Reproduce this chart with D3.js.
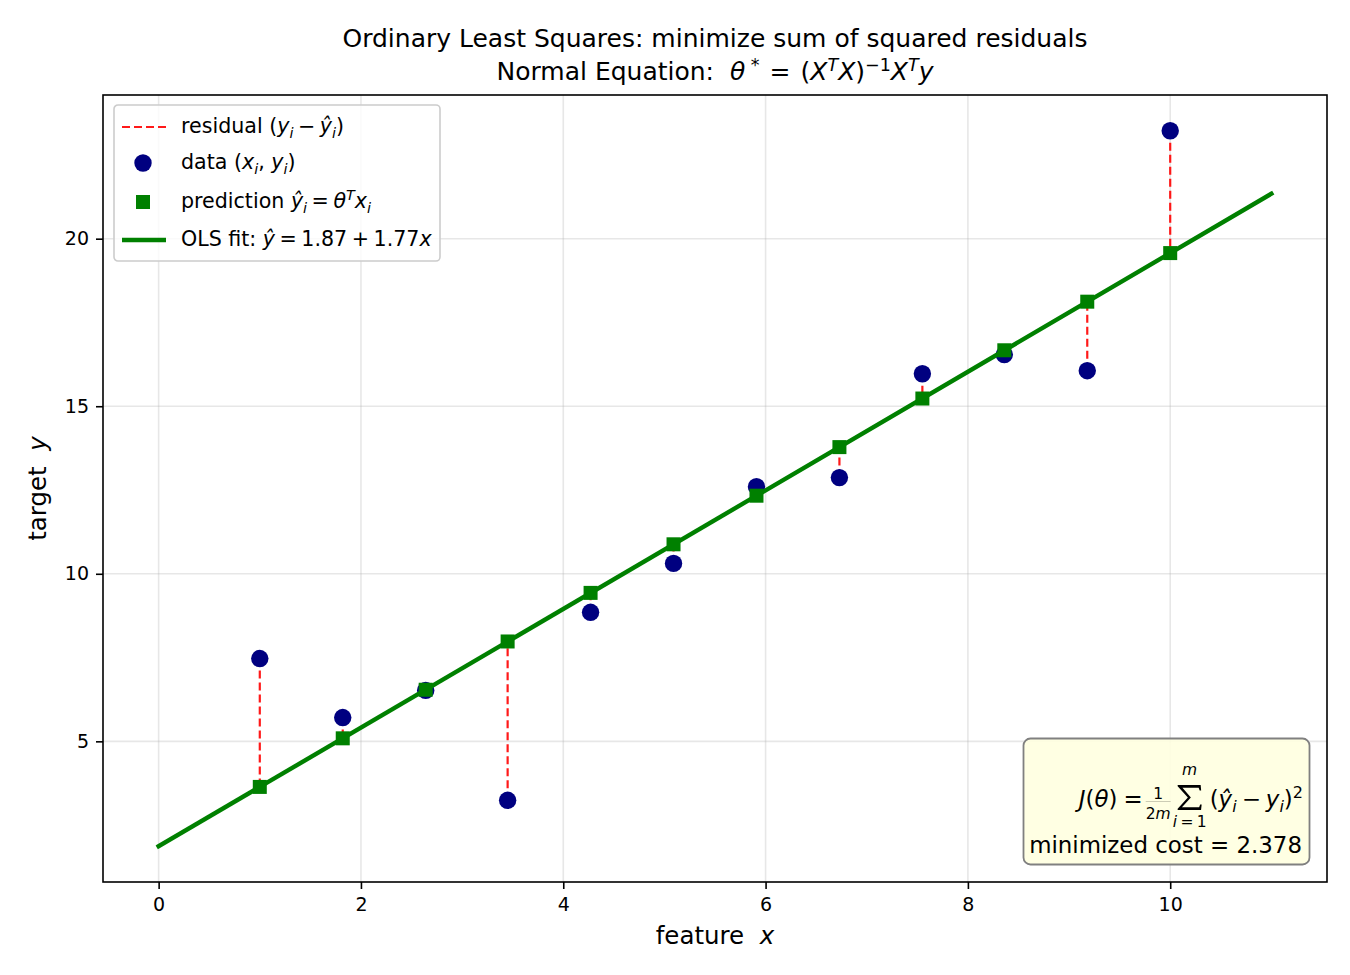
<!DOCTYPE html>
<html>
<head>
<meta charset="utf-8">
<script src="https://cdn.jsdelivr.net/npm/d3@7"></script>
<style>
  body { margin: 0; background: #fff; }
  svg { font-family: "DejaVu Sans", sans-serif; }
  text { white-space: pre; }
</style>
</head>
<body>
<svg id="chart" width="1350" height="975"></svg>
<script>
// data
const featureX = [1.00, 1.82, 2.64, 3.45, 4.27, 5.09, 5.91, 6.73, 7.55, 8.36, 9.18, 10.00];
const targetY = [7.47, 5.71, 6.52, 3.24, 8.85, 10.31, 12.60, 12.87, 15.97, 16.54, 16.06, 23.22];
const predictedY = [3.64, 5.09, 6.54, 7.98, 9.43, 10.88, 12.33, 13.78, 15.23, 16.67, 18.12, 19.57];
const fitX = [0, 11];
const fitY = [1.87, 21.34];
const xTicks = [0, 2, 4, 6, 8, 10];
const yTicks = [5, 10, 15, 20];
const fitLabel = { intercept: "1.87", slope: "1.77" };
const minimizedCost = "2.378";

const margin = { top: 95, right: 23, bottom: 93, left: 103 };
const width = 1350 - margin.left - margin.right;
const height = 975 - margin.top - margin.bottom;

const svg = d3.select("#chart");
const g = svg.append("g").attr("transform", `translate(${margin.left},${margin.top})`);

// matplotlib style 5% padding
function padded(ext) {
  const pad = (ext[1] - ext[0]) * 0.05;
  return [ext[0] - pad, ext[1] + pad];
}
const x = d3.scaleLinear()
  .domain(padded(d3.extent(fitX.concat(featureX))))
  .range([0, width]);
const y = d3.scaleLinear()
  .domain(padded(d3.extent(fitY.concat(targetY, predictedY))))
  .range([height, 0]);

const green = "#008000";
const navy = "#000080";

// rich text: parts like {t, i (italic), sub, sup, op (binary operator with math spacing)}
function rich(parent, px, py, parts, size, anchor, gapEm) {
  const t = parent.append("text")
    .attr("x", px)
    .attr("y", py)
    .attr("font-size", size)
    .attr("text-anchor", anchor || "start")
    .attr("fill", "#000");
  let shift = 0;
  let pending = 0;
  const gap = size * (gapEm || 0.22);
  parts.forEach((p) => {
    let target = 0;
    let fs = size;
    if (p.sub) { target = size * 0.22; fs = size * 0.7; }
    if (p.sup) { target = -size * 0.38; fs = size * 0.7; }
    const ts = t.append("tspan")
      .attr("dy", target - shift)
      .attr("font-size", fs)
      .attr("font-style", p.i ? "italic" : "normal")
      .text(p.t);
    if (p.op) {
      ts.attr("dx", gap);
      pending = gap;
    } else {
      if (pending) ts.attr("dx", pending);
      pending = 0;
    }
    shift = target;
  });
  return t;
}

// grid
g.append("g")
  .selectAll("line")
  .data(xTicks)
  .join("line")
  .attr("x1", (d) => x(d))
  .attr("x2", (d) => x(d))
  .attr("y1", 0)
  .attr("y2", height)
  .attr("stroke", "#b0b0b0")
  .attr("stroke-opacity", 0.3)
  .attr("stroke-width", 1.6);

g.append("g")
  .selectAll("line")
  .data(yTicks)
  .join("line")
  .attr("x1", 0)
  .attr("x2", width)
  .attr("y1", (d) => y(d))
  .attr("y2", (d) => y(d))
  .attr("stroke", "#b0b0b0")
  .attr("stroke-opacity", 0.3)
  .attr("stroke-width", 1.6);

// residuals
g.append("g")
  .selectAll("line")
  .data(featureX)
  .join("line")
  .attr("x1", (d) => x(d))
  .attr("x2", (d) => x(d))
  .attr("y1", (d, i) => y(targetY[i]))
  .attr("y2", (d, i) => y(predictedY[i]))
  .attr("stroke", "red")
  .attr("stroke-opacity", 0.9)
  .attr("stroke-width", 2.2)
  .attr("stroke-dasharray", "8,4");

// data points
g.append("g")
  .selectAll("circle")
  .data(featureX)
  .join("circle")
  .attr("cx", (d) => x(d))
  .attr("cy", (d, i) => y(targetY[i]))
  .attr("r", 8.7)
  .attr("fill", navy);

// predictions
g.append("g")
  .selectAll("rect")
  .data(featureX)
  .join("rect")
  .attr("x", (d) => x(d) - 7)
  .attr("y", (d, i) => y(predictedY[i]) - 7)
  .attr("width", 14)
  .attr("height", 14)
  .attr("fill", green);

// fit line
const line = d3.line()
  .x((d) => x(d))
  .y((d, i) => y(fitY[i]));

g.append("path")
  .datum(fitX)
  .attr("fill", "none")
  .attr("stroke", green)
  .attr("stroke-width", 4.4)
  .attr("stroke-linecap", "square")
  .attr("d", line);

// axes
const xAxis = d3.axisBottom(x).tickValues(xTicks).tickSize(7).tickPadding(9).tickFormat(d3.format("d"));
const yAxis = d3.axisLeft(y).tickValues(yTicks).tickSize(7).tickPadding(7).tickFormat(d3.format("d"));

const gx = g.append("g").attr("transform", `translate(0,${height})`).call(xAxis);
const gy = g.append("g").call(yAxis);
[gx, gy].forEach((a) => {
  a.select(".domain").remove();
  a.selectAll(".tick line").attr("stroke", "#000").attr("stroke-width", 1.6);
  a.selectAll(".tick text")
    .attr("font-family", "DejaVu Sans")
    .attr("font-size", 19)
    .attr("fill", "#000");
});

g.append("rect")
  .attr("width", width)
  .attr("height", height)
  .attr("fill", "none")
  .attr("stroke", "#000")
  .attr("stroke-width", 1.6);

// axis labels
rich(svg, margin.left + width / 2, 944, [{ t: "feature  " }, { t: "x", i: 1 }], 24.5, "middle");
const ylab = svg.append("g").attr("transform", `translate(46,${margin.top + height / 2}) rotate(-90)`);
rich(ylab, 0, 0, [{ t: "target  " }, { t: "y", i: 1 }], 24.5, "middle");

// title
rich(svg, margin.left + width / 2, 47, [{ t: "Ordinary Least Squares: minimize sum of squared residuals" }], 25, "middle");
rich(svg, margin.left + width / 2, 80, [
  { t: "Normal Equation:  " },
  { t: "θ", i: 1 }, { t: " *", sup: 1 },
  { t: "=", op: 1 }, { t: "(" }, { t: "X", i: 1 }, { t: "T", i: 1, sup: 1 },
  { t: "X", i: 1 }, { t: ")" }, { t: "−1", sup: 1 },
  { t: "X", i: 1 }, { t: "T", i: 1, sup: 1 }, { t: "y", i: 1 },
], 25, "middle", 0.4);

// legend
const leg = svg.append("g").attr("transform", "translate(114,105)");
leg.append("rect")
  .attr("width", 326)
  .attr("height", 156)
  .attr("rx", 4)
  .attr("fill", "#fff")
  .attr("fill-opacity", 0.8)
  .attr("stroke", "#cccccc")
  .attr("stroke-width", 1.6);

const legRows = [22, 58, 97, 135];
leg.append("line")
  .attr("x1", 8).attr("x2", 52)
  .attr("y1", legRows[0]).attr("y2", legRows[0])
  .attr("stroke", "red").attr("stroke-opacity", 0.9)
  .attr("stroke-width", 2.2).attr("stroke-dasharray", "8,4");
leg.append("circle").attr("cx", 29).attr("cy", legRows[1]).attr("r", 8.7).attr("fill", navy);
leg.append("rect").attr("x", 22).attr("y", legRows[2] - 7).attr("width", 14).attr("height", 14).attr("fill", green);
leg.append("line")
  .attr("x1", 8).attr("x2", 52)
  .attr("y1", legRows[3]).attr("y2", legRows[3])
  .attr("stroke", green).attr("stroke-width", 4.4);

const legFs = 20.6;
rich(leg, 67, legRows[0] + 6, [
  { t: "residual (" }, { t: "y", i: 1 }, { t: "i", i: 1, sub: 1 },
  { t: "−", op: 1 }, { t: "ŷ", i: 1 }, { t: "i", i: 1, sub: 1 }, { t: ")" },
], legFs);
rich(leg, 67, legRows[1] + 6, [
  { t: "data (" }, { t: "x", i: 1 }, { t: "i", i: 1, sub: 1 },
  { t: ", " }, { t: "y", i: 1 }, { t: "i", i: 1, sub: 1 }, { t: ")" },
], legFs);
rich(leg, 67, legRows[2] + 6, [
  { t: "prediction " }, { t: "ŷ", i: 1 }, { t: "i", i: 1, sub: 1 },
  { t: "=", op: 1 }, { t: "θ", i: 1 }, { t: "T", i: 1, sup: 1 },
  { t: "x", i: 1 }, { t: "i", i: 1, sub: 1 },
], legFs);
rich(leg, 67, legRows[3] + 6, [
  { t: "OLS fit: " }, { t: "ŷ", i: 1 },
  { t: "=", op: 1 }, { t: fitLabel.intercept }, { t: "+", op: 1 }, { t: fitLabel.slope }, { t: "x", i: 1 },
], legFs);

// cost box
const box = svg.append("g");
box.append("rect")
  .attr("x", 1023.5)
  .attr("y", 738.5)
  .attr("width", 286)
  .attr("height", 126)
  .attr("rx", 7)
  .attr("fill", "#ffffe0")
  .attr("fill-opacity", 0.9)
  .attr("stroke", "#808080")
  .attr("stroke-width", 1.8);

const costFs = 22.9;
rich(box, 1302, 853, [{ t: `minimized cost = ${minimizedCost}` }], costFs, "end");

// J(theta) formula, laid out left to right then shifted to the right edge
const jf = box.append("g");
let cx = 0;
const j1 = rich(jf, cx, 0, [{ t: "J", i: 1 }, { t: "(" }, { t: "θ", i: 1 }, { t: ")" }], costFs);
cx += j1.node().getBBox().width + 2;
const eq = jf.append("text").attr("font-size", costFs).attr("x", cx).text("=");
cx += eq.node().getBBox().width + 3;
// fraction 1/2m
const fracFs = 15.5;
const den = rich(jf, 0, 12, [{ t: "2" }, { t: "m", i: 1 }], fracFs, "middle");
const fw = den.node().getBBox().width;
den.attr("x", cx + fw / 2);
jf.append("text")
  .attr("font-size", fracFs)
  .attr("text-anchor", "middle")
  .attr("x", cx + fw / 2)
  .attr("y", -8)
  .text("1");
jf.append("line")
  .attr("x1", cx).attr("x2", cx + fw)
  .attr("y1", -5.5).attr("y2", -5.5)
  .attr("stroke", "#000").attr("stroke-opacity", 0.25).attr("stroke-width", 0.8);
cx += fw + 7;
// big sigma drawn as a shape, limits above and below
const sw = 24;
const sh = 25;
jf.append("path")
  .attr("transform", `translate(${cx},${-sh + 3})`)
  .attr("fill", "#000")
  .attr("d", `M0,0 L${sw - 1},0 L${sw - 0.5},5.5 L${sw - 2},5.5 L${sw - 3},2.7 L4.8,2.7 L13.2,12.5 L4.3,22.3 L${sw - 2.5},22.3 L${sw - 1.5},19.5 L${sw},19.5 L${sw - 0.6},${sh} L0,${sh} L0,23.7 L10.2,12.5 L0,1.3 Z`);
rich(jf, cx + sw / 2, -32, [{ t: "m", i: 1 }], fracFs, "middle");
rich(jf, cx + sw / 2, 20, [{ t: "i", i: 1 }, { t: "=", op: 1 }, { t: "1" }], fracFs, "middle");
cx += sw + 8;
const j2 = rich(jf, cx, 0, [
  { t: "(" }, { t: "ŷ", i: 1 }, { t: "i", i: 1, sub: 1 },
  { t: "−", op: 1 }, { t: "y", i: 1 }, { t: "i", i: 1, sub: 1 }, { t: ")" }, { t: "2", sup: 1 },
], costFs);
cx += j2.node().getBBox().width;
jf.attr("transform", `translate(${1303 - cx},807)`);
</script>
</body>
</html>
